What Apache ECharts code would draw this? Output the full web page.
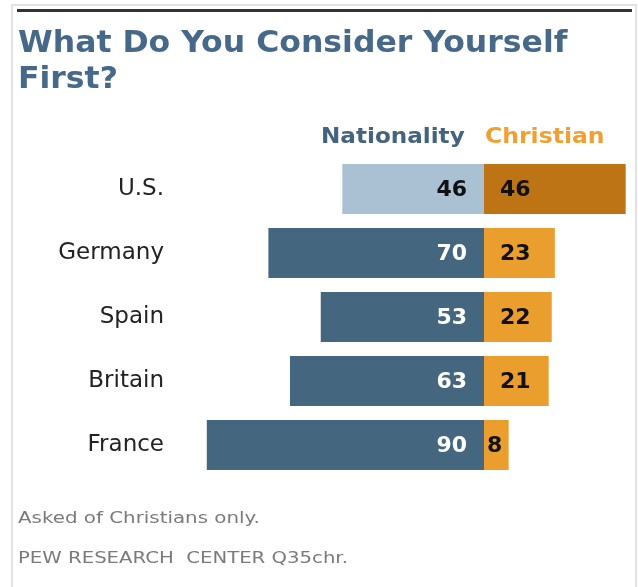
<!DOCTYPE html>
<html>
<head>
<meta charset="utf-8">
<script src="https://cdn.jsdelivr.net/npm/echarts@6/dist/echarts.min.js"></script>
<style>
  html, body { margin: 0; padding: 0; background: #fff; }
  #chart { width: 638px; height: 587px; }
</style>
</head>
<body>
<div id="chart"></div>
<script>
// Survey answers: share who consider themselves nationality first vs. Christian first
const countries = ['U.S.', 'Germany', 'Spain', 'Britain', 'France'];
const nationality = [46, 70, 53, 63, 90];
const christian = [46, 23, 22, 21, 8];

const FONT = 'DejaVu Sans, Verdana, sans-serif';
const darkBlue = '#44677F';
const lightBlue = '#AAC1D4';
const orange = '#EA9E2E';
const darkOrange = '#BD7415';

const natData = nationality.map((v, i) => ({
  value: -v,
  itemStyle: { color: i === 0 ? lightBlue : darkBlue },
  label: { color: i === 0 ? '#111' : '#fff' }
}));
// short Christian bars keep their number tight to the left edge
const chrData = christian.map((v, i) => ({
  value: v,
  itemStyle: { color: i === 0 ? darkOrange : orange },
  label: { distance: v < 10 ? 3 : 16 }
}));

const chart = echarts.init(document.getElementById('chart'), null, { renderer: 'canvas' });
chart.setOption({
  animation: false,
  backgroundColor: '#fff',
  grid: { left: 176, right: 0, top: 157, height: 320, containLabel: false },
  xAxis: { type: 'value', min: -100, max: 50, show: false },
  yAxis: {
    type: 'category', data: countries, inverse: true,
    axisLine: { show: false }, axisTick: { show: false }, splitLine: { show: false },
    axisLabel: {
      show: true, margin: 0, color: '#222', fontFamily: FONT, fontSize: 23,
      align: 'right'
    },
    offset: 12
  },
  series: [
    {
      name: 'Nationality', type: 'bar', stack: 'a', barWidth: 50,
      data: natData,
      label: {
        show: true, position: 'insideRight', distance: 17, offset: [0, 1],
        fontFamily: FONT, fontWeight: 'bold', fontSize: 22,
        formatter: p => Math.abs(p.value)
      }
    },
    {
      name: 'Christian', type: 'bar', stack: 'a', barWidth: 50,
      data: chrData,
      label: {
        show: true, position: 'insideLeft', offset: [0, 1],
        color: '#111', fontFamily: FONT, fontWeight: 'bold', fontSize: 22,
        formatter: p => p.value
      }
    }
  ],
  graphic: [
    // frame
    { type: 'rect', shape: { x: 12, y: 5, width: 624, height: 600 }, style: { fill: 'none', stroke: '#e2e2e2', lineWidth: 2 }, silent: true },
    { type: 'rect', shape: { x: 17, y: 9, width: 615, height: 3 }, style: { fill: '#333' }, silent: true },
    // title
    { type: 'text', x: 18, y: 26, scaleX: 1.05, style: { text: 'What Do You Consider Yourself\nFirst?', fill: '#46698A', font: 'bold 30px "DejaVu Sans", sans-serif', lineHeight: 36 } },
    // column headers
    { type: 'text', x: 321, y: 127, scaleX: 1.1, style: { text: 'Nationality', fill: '#44647E', font: 'bold 21px ' + FONT } },
    { type: 'text', x: 485, y: 127, scaleX: 1.12, style: { text: 'Christian', fill: '#F0A030', font: 'bold 21px ' + FONT } },
    // notes
    { type: 'text', x: 18, y: 511, scaleX: 1.24, style: { text: 'Asked of Christians only.', fill: '#7a7a7a', font: '16px ' + FONT } },
    { type: 'text', x: 18, y: 551, scaleX: 1.23, style: { text: 'PEW RESEARCH  CENTER Q35chr.', fill: '#7a7a7a', font: '16px ' + FONT } }
  ]
});
</script>
</body>
</html>
